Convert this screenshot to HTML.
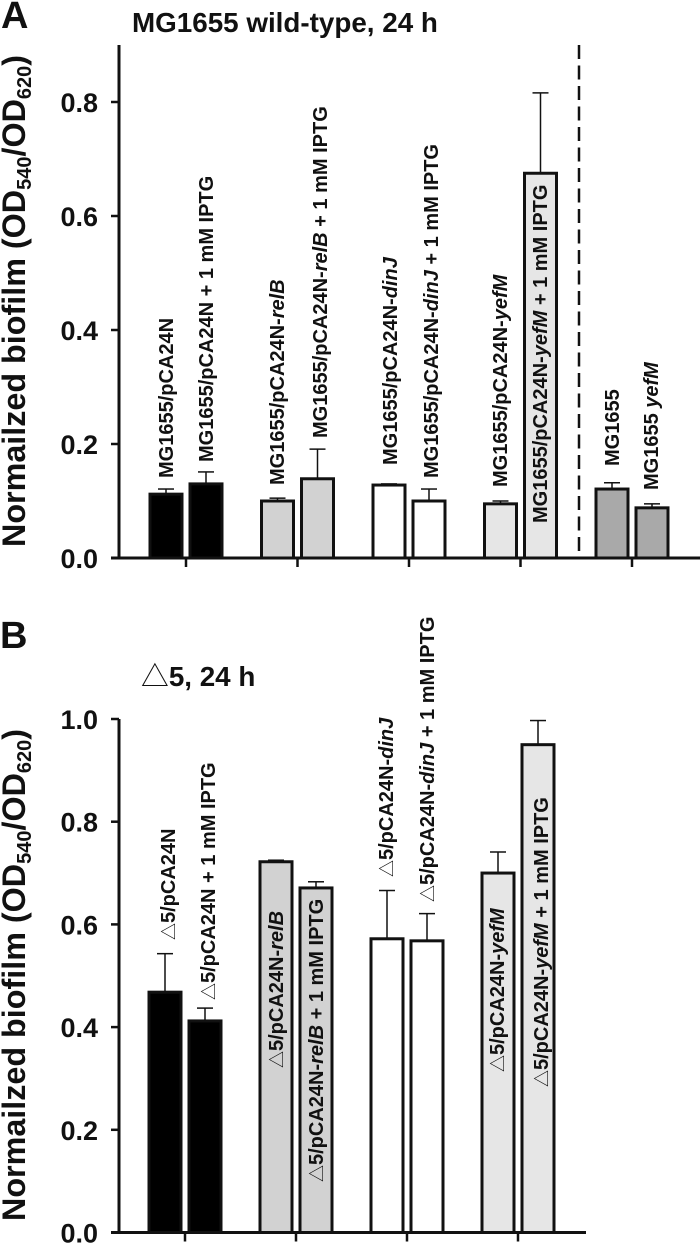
<!DOCTYPE html>
<html>
<head>
<meta charset="utf-8">
<title>Normalized biofilm charts</title>
<style>
html,body{margin:0;padding:0;background:#fff;width:700px;height:1243px;overflow:hidden}
svg{display:block}
text{font-family:"Liberation Sans","Noto Sans CJK JP",sans-serif;font-weight:bold;fill:#111}
.lab{font-size:20px}
.lab .tri{font-size:17px}
.tick{font-size:27px;text-anchor:end}
.ttl{font-size:27.8px}
.ytitle{font-size:32.3px}
.ytitle tspan.s{font-size:20px}
.letter{font-size:38px}
.tri{font-weight:normal}
.it{font-style:italic}
</style>
</head>
<body>
<svg id="figure" width="700" height="1243" viewBox="0 0 700 1243" xmlns="http://www.w3.org/2000/svg">
  <rect width="700" height="1243" fill="#fff"/>

  <text class="letter" x="1" y="28">A</text>
  <text class="ttl" x="132" y="32">MG1655 wild-type, 24 h</text>
  <text class="ytitle" transform="translate(25,547) rotate(-90)">Normailzed biofilm (OD<tspan class="s" dy="6">540</tspan><tspan dy="-6">/OD</tspan><tspan class="s" dy="6">620</tspan><tspan dy="-6">)</tspan></text>
  <g id="panelA"></g>
  <line x1="579" y1="45" x2="579" y2="558" stroke="#111" stroke-width="2.5" stroke-dasharray="14 6.5"/>

  <g>
    <text class="lab" transform="translate(173,478) rotate(-90)">MG1655/pCA24N</text>
    <text class="lab" transform="translate(213,462) rotate(-90)">MG1655/pCA24N + 1 mM IPTG</text>
    <text class="lab" transform="translate(284,485) rotate(-90)">MG1655/pCA24N-<tspan class="it">relB</tspan></text>
    <text class="lab" transform="translate(327,438) rotate(-90)">MG1655/pCA24N-<tspan class="it">relB</tspan> + 1 mM IPTG</text>
    <text class="lab" transform="translate(397,465) rotate(-90)">MG1655/pCA24N-<tspan class="it">dinJ</tspan></text>
    <text class="lab" transform="translate(438,478) rotate(-90)">MG1655/pCA24N-<tspan class="it">dinJ</tspan> + 1 mM IPTG</text>
    <text class="lab" transform="translate(507,487) rotate(-90)">MG1655/pCA24N-<tspan class="it">yefM</tspan></text>
    <text class="lab" transform="translate(547,523) rotate(-90)">MG1655/pCA24N-<tspan class="it">yefM</tspan> + 1 mM IPTG</text>
    <text class="lab" transform="translate(619,466) rotate(-90)">MG1655</text>
    <text class="lab" transform="translate(658,490) rotate(-90)">MG1655 <tspan class="it">yefM</tspan></text>
  </g>

  <text class="letter" x="0" y="648">B</text>
  <text class="ttl" x="141" y="686"><tspan class="tri">△</tspan>5, 24 h</text>
  <text class="ytitle" transform="translate(25,1221) rotate(-90)">Normailzed biofilm (OD<tspan class="s" dy="6">540</tspan><tspan dy="-6">/OD</tspan><tspan class="s" dy="6">620</tspan><tspan dy="-6">)</tspan></text>
  <g id="panelB"></g>

  <g>
    <text class="lab" transform="translate(175,940) rotate(-90)"><tspan class="tri">△</tspan>5/pCA24N</text>
    <text class="lab" transform="translate(215,1000) rotate(-90)"><tspan class="tri">△</tspan>5/pCA24N + 1 mM IPTG</text>
    <text class="lab" transform="translate(283,1068) rotate(-90)"><tspan class="tri">△</tspan>5/pCA24N-<tspan class="it">relB</tspan></text>
    <text class="lab" transform="translate(323,1182) rotate(-90)"><tspan class="tri">△</tspan>5/pCA24N-<tspan class="it">relB</tspan> + 1 mM IPTG</text>
    <text class="lab" transform="translate(393,877) rotate(-90)"><tspan class="tri">△</tspan>5/pCA24N-<tspan class="it">dinJ</tspan></text>
    <text class="lab" transform="translate(434,902) rotate(-90)"><tspan class="tri">△</tspan>5/pCA24N-<tspan class="it">dinJ</tspan> + 1 mM IPTG</text>
    <text class="lab" transform="translate(504,1072) rotate(-90)"><tspan class="tri">△</tspan>5/pCA24N-<tspan class="it">yefM</tspan></text>
    <text class="lab" transform="translate(548,1087) rotate(-90)"><tspan class="tri">△</tspan>5/pCA24N-<tspan class="it">yefM</tspan> + 1 mM IPTG</text>
  </g>
</svg>

<script>
const categoriesA = ["pCA24N", "pCA24N-IPTG", "relB", "relB-IPTG", "dinJ", "dinJ-IPTG", "yefM", "yefM-IPTG", "wild-type", "yefM-mutant"];
const valuesA = [0.112, 0.130, 0.100, 0.139, 0.128, 0.100, 0.095, 0.675, 0.121, 0.088];
const errorTopsA = [0.121, 0.151, 0.105, 0.191, 0.130, 0.121, 0.100, 0.816, 0.132, 0.095];
const coloursA = ["#000000", "#000000", "#d2d2d2", "#d2d2d2", "#ffffff", "#ffffff", "#e6e6e6", "#e6e6e6", "#a9a9a9", "#a9a9a9"];
const ticksA = [0, 0.2, 0.4, 0.6, 0.8];
const tickLabelsA = ["0.0", "0.2", "0.4", "0.6", "0.8"];

const categoriesB = ["pCA24N", "pCA24N-IPTG", "relB", "relB-IPTG", "dinJ", "dinJ-IPTG", "yefM", "yefM-IPTG"];
const valuesB = [0.468, 0.412, 0.722, 0.671, 0.572, 0.568, 0.700, 0.950];
const errorTopsB = [0.543, 0.437, 0.725, 0.683, 0.666, 0.621, 0.741, 0.997];
const coloursB = ["#000000", "#000000", "#d2d2d2", "#d2d2d2", "#ffffff", "#ffffff", "#e6e6e6", "#e6e6e6"];
const ticksB = [0, 0.2, 0.4, 0.6, 0.8, 1.0];
const tickLabelsB = ["0.0", "0.2", "0.4", "0.6", "0.8", "1.0"];

const NS = "http://www.w3.org/2000/svg";
const INK = "#111";

function line(parent, x1, y1, x2, y2, w) {
  const el = document.createElementNS(NS, "line");
  el.setAttribute("x1", x1);
  el.setAttribute("y1", y1);
  el.setAttribute("x2", x2);
  el.setAttribute("y2", y2);
  el.setAttribute("stroke", INK);
  el.setAttribute("stroke-width", w);
  parent.appendChild(el);
  return el;
}

function drawPanel(cfg) {
  const g = document.getElementById(cfg.id);
  const yScale = v => cfg.y0 - v * cfg.pxPerUnit;
  const groupX = i => cfg.firstTick + cfg.groupStep * i;
  const barX = i => groupX(Math.floor(i / 2)) + (i % 2 === 0 ? -20 : 20);

  const yAxis = line(g, 119, cfg.top, 119, cfg.y0, 3);
  
  

  cfg.ticks.forEach((t, i) => {
    const tk = line(g, 111, yScale(t), 119, yScale(t), 2.5);
    
    
    const lb = document.createElementNS(NS, "text");
    lb.setAttribute("class", "tick");
    lb.setAttribute("x", 98);
    lb.setAttribute("y", yScale(t) + 10);
    lb.textContent = cfg.tickLabels[i];
    
    
    g.appendChild(lb);
  });

  cfg.values.forEach((v, i) => {
    const x = barX(i);
    const cap = line(g, x - 8, yScale(cfg.errorTops[i]), x + 8, yScale(cfg.errorTops[i]), 1.5);
    
    
    const stem = line(g, x, yScale(cfg.errorTops[i]), x, yScale(v), 1.5);
    
    
    const r = document.createElementNS(NS, "rect");
    r.setAttribute("x", x - 16);
    r.setAttribute("y", yScale(v));
    r.setAttribute("width", 32);
    r.setAttribute("height", cfg.y0 - yScale(v));
    r.setAttribute("fill", cfg.colours[i]);
    r.setAttribute("stroke", INK);
    r.setAttribute("stroke-width", 3);
    
    
    g.appendChild(r);
  });

  const xAxis = line(g, 111, cfg.y0, cfg.right, cfg.y0, 3);
  
  

  for (let i = 0; i < cfg.categories.length / 2; i++) {
    const tk = line(g, groupX(i), cfg.y0, groupX(i), cfg.y0 + 9, 2.5);
    
    
  }
}

drawPanel({
  id: "panelA", prefix: "panel-a", y0: 558, pxPerUnit: 570, top: 45, right: 700,
  firstTick: 186, groupStep: 111.5,
  categories: categoriesA, values: valuesA, errorTops: errorTopsA, colours: coloursA,
  ticks: ticksA, tickLabels: tickLabelsA
});
drawPanel({
  id: "panelB", prefix: "panel-b", y0: 1232.5, pxPerUnit: 513.5, top: 719, right: 586,
  firstTick: 185, groupStep: 111,
  categories: categoriesB, values: valuesB, errorTops: errorTopsB, colours: coloursB,
  ticks: ticksB, tickLabels: tickLabelsB
});
</script>
</body>
</html>
